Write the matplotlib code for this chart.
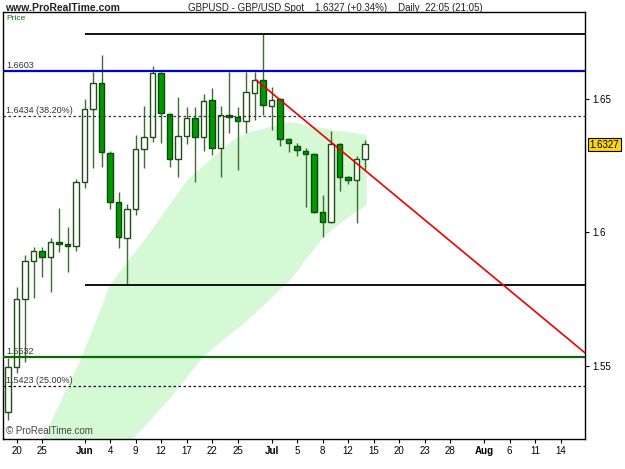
import matplotlib
matplotlib.use("Agg")
import matplotlib.pyplot as plt
import matplotlib.transforms as mtransforms
import numpy as np

plt.rcParams["font.family"] = ["Liberation Sans", "DejaVu Sans"]

# daily candles, first bar = 19 May
opens = [1.5326, 1.5494, 1.5749, 1.5891, 1.5930, 1.5907, 1.5964, 1.5955, 1.5949, 1.6186,
         1.6461, 1.6557, 1.6297, 1.6113, 1.5976, 1.6086, 1.6311, 1.6357, 1.6594, 1.6442,
         1.6273, 1.6361, 1.6426, 1.6355, 1.6494, 1.6313, 1.6438, 1.6430, 1.6416, 1.6519,
         1.6569, 1.6473, 1.6498, 1.6348, 1.6323, 1.6305, 1.6292, 1.6076, 1.6036, 1.6330,
         1.6207, 1.6195, 1.6272]
highs = [1.5528, 1.5794, 1.5914, 1.5944, 1.5944, 1.5978, 1.6090, 1.6019, 1.6199, 1.6498,
         1.6598, 1.6663, 1.6305, 1.6151, 1.6105, 1.6363, 1.6472, 1.6622, 1.6600, 1.6445,
         1.6507, 1.6469, 1.6467, 1.6516, 1.6539, 1.6473, 1.6598, 1.6467, 1.6598, 1.6598,
         1.6742, 1.6544, 1.6502, 1.6352, 1.6333, 1.6313, 1.6295, 1.6139, 1.6379, 1.6333,
         1.6210, 1.6286, 1.6345]
lows = [1.5296, 1.5472, 1.5513, 1.5753, 1.5833, 1.5776, 1.5925, 1.5851, 1.5930, 1.6165,
        1.6240, 1.6243, 1.6086, 1.5939, 1.5801, 1.6064, 1.6240, 1.6338, 1.6332, 1.6242,
        1.6205, 1.6328, 1.6186, 1.6304, 1.6288, 1.6205, 1.6370, 1.6232, 1.6370, 1.6419,
        1.6438, 1.6382, 1.6322, 1.6299, 1.6285, 1.6095, 1.6070, 1.5982, 1.6034, 1.6154,
        1.6179, 1.6033, 1.6232]
closes = [1.5494, 1.5749, 1.5891, 1.5929, 1.5907, 1.5964, 1.5954, 1.5949, 1.6187, 1.6461,
          1.6557, 1.6299, 1.6113, 1.5980, 1.6086, 1.6311, 1.6357, 1.6594, 1.6445, 1.6273,
          1.6361, 1.6426, 1.6355, 1.6491, 1.6313, 1.6438, 1.6432, 1.6416, 1.6523, 1.6569,
          1.6476, 1.6494, 1.6347, 1.6332, 1.6307, 1.6292, 1.6076, 1.6036, 1.6328, 1.6207,
          1.6195, 1.6272, 1.6328]

# light green band (bar index, price)
band_up_k = [2.5, 4.1, 8.7, 12.0, 16.9, 21.1, 23.8, 26.5, 28.5, 33.2, 38.2, 42.2]
band_up_p = [1.5185, 1.5225, 1.5532, 1.5801, 1.6007, 1.6195, 1.6270, 1.6345, 1.6375, 1.6412, 1.6382, 1.6363]
band_lo_k = [13.5, 14.7, 19.1, 22.9, 28.5, 33.2, 37.1, 39.6, 42.2]
band_lo_p = [1.5180, 1.5225, 1.5378, 1.5532, 1.5678, 1.5820, 1.5981, 1.6045, 1.6101]

# x axis labels (bar index -> label)
tick_pos = [1, 4, 9, 12, 15, 18, 21, 24, 27, 31, 34, 37, 40, 43, 46, 49, 52, 56, 59, 62, 65]
tick_lab = ["20", "25", "Jun", "4", "9", "12", "17", "22", "25", "Jul", "5", "8", "12", "15",
            "20", "23", "28", "Aug", "6", "11", "14"]

# horizontal levels
top_level = 1.6742
support_level = 1.5801
blue_level = 1.6603
fib38 = 1.6434
green_level = 1.5532
fib25 = 1.5423
trend_k = [29.2, 67.9]
trend_p = [1.6569, 1.5547]
last_price = 1.6327

fig = plt.figure(figsize=(6.25, 4.69), dpi=100)
ax = fig.add_axes([3 / 625, 30 / 469, 582 / 625, 427 / 469])

x_left, x_right = -0.59, 67.88
ax.set_xlim(x_left, x_right)
ax.set_ylim(1.5225, 1.6824)

# band
poly_k = np.concatenate([band_up_k, band_lo_k[::-1]])
poly_p = np.concatenate([band_up_p, band_lo_p[::-1]])
ax.fill(poly_k, poly_p, color="#d4f9d4", lw=0, zorder=1)

# candles
k = np.arange(len(opens))
o = np.array(opens)
c = np.array(closes)
up = c >= o
ax.vlines(k, lows, highs, color="#3d6b30", lw=1, zorder=2)
body_h = np.maximum(np.abs(c - o), 0.0004)
ax.bar(k[up], body_h[up], bottom=np.minimum(o, c)[up], width=0.7,
       color="white", edgecolor="#1f4d14", linewidth=1, zorder=3)
ax.bar(k[~up], body_h[~up], bottom=np.minimum(o, c)[~up], width=0.7,
       color="#009a00", edgecolor="#0b4a0b", linewidth=1, zorder=3)

# levels
ax.hlines(top_level, 9.06, x_right, color="#111111", lw=1.4, zorder=4)
ax.hlines(support_level, 9.06, x_right, color="#111111", lw=1.4, zorder=4)
ax.axhline(blue_level, color="#0000cc", lw=1.6, zorder=4)
ax.axhline(green_level, color="#0a6a0a", lw=1.6, zorder=4)
ax.axhline(fib38, color="#333333", lw=0.9, ls=(0, (2, 2)), zorder=4)
ax.axhline(fib25, color="#111111", lw=0.9, ls=(0, (2, 2)), zorder=4)
ax.plot(trend_k, trend_p, color="#ee0000", lw=1.2, zorder=5)

lab_tr = mtransforms.blended_transform_factory(ax.transAxes, ax.transData)
for lvl, txt in [(blue_level, "1.6603"), (fib38, "1.6434 (38.20%)"),
                 (green_level, "1.5532"), (fib25, "1.5423 (25.00%)")]:
    ax.text(0.006, lvl + 0.0004, txt, transform=lab_tr, fontsize=6.5,
            color="#333333", va="bottom", ha="left", zorder=6)

# axes styling
ax.set_xticks(tick_pos)
ax.set_xticklabels(tick_lab, fontsize=7)
for lab in ax.get_xticklabels():
    if lab.get_text() in ("Jun", "Jul", "Aug"):
        lab.set_fontweight("bold")
ax.yaxis.tick_right()
ax.set_yticks([1.55, 1.6, 1.65])
ax.set_yticklabels(["1.55", "1.6", "1.65"], fontsize=7)
ax.tick_params(axis="both", length=3, width=0.8, pad=2, colors="#000000")
for s in ax.spines.values():
    s.set_linewidth(1)
    s.set_color("black")

ax.text(0.006, 0.992, "Price", transform=ax.transAxes, fontsize=6, color="#1a6a1a",
        va="top", ha="left")
ax.text(0.006, 0.006, "\u00a9 ProRealTime.com", transform=ax.transAxes, fontsize=7,
        color="#444444", va="bottom", ha="left", zorder=6)

# last price box
ax.text(1.008, last_price, "1.6327", transform=lab_tr, fontsize=7, color="black",
        va="center", ha="left", zorder=7, clip_on=False,
        bbox=dict(boxstyle="square,pad=0.15", fc="#ffd700", ec="black", lw=0.8))

fig.text(5 / 625, 1 - 8 / 469, "www.ProRealTime.com", fontsize=7.5, fontweight="bold",
         color="#222222", va="center", ha="left")
fig.text(188 / 625, 1 - 8 / 469,
         "GBPUSD - GBP/USD Spot    1.6327 (+0.34%)    Daily  22:05 (21:05)",
         fontsize=7, color="#222222", va="center", ha="left")

fig.savefig("out.png", dpi=100)
